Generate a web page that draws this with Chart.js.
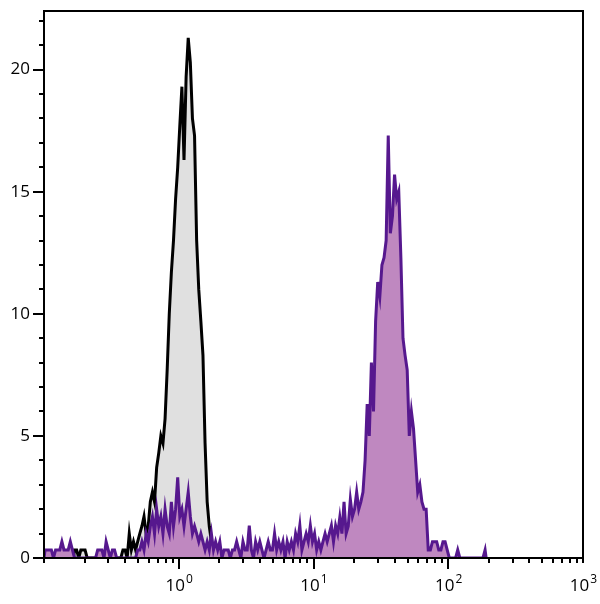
<!DOCTYPE html>
<html>
<head>
<meta charset="utf-8">
<script src="https://cdn.jsdelivr.net/npm/chart.js@4.4.0/dist/chart.umd.min.js"></script>
<style>
  html, body { margin: 0; padding: 0; background: #fff; }
</style>
</head>
<body>
<canvas id="histChart" width="600" height="604"></canvas>
<script>
// histogram channels: 64 per decade, first channel at 10^-1
const binsPerDecade = 64;
const firstDecade = -1;

const xTickValues = [1, 10, 100, 1000];
const xTickExponents = ["0", "1", "2", "3"];

// unstained control (black outline, grey fill), counts from channel 14
const controlStart = 14;
const controlCounts = [
  0.33, 0.33, 0, 0.33, 0.33, 0.33,
  0, 0, 0, 0, 0, 0, 0, 0, 0, 0, 0, 0, 0, 0, 0, 0, 0,
  0.33, 0.33, 0, 1.0, 0.33, 0.67, 0.33, 0.67, 1.0, 1.3, 1.7, 1.0, 1.3, 2.3, 2.7, 2.3, 3.7, 4.3, 5.0, 4.7, 5.7,
  7.7, 10.0, 11.7, 13.0, 14.7, 16.0, 17.7, 19.3, 16.3, 19.7, 21.3, 20.3, 18.0, 17.3, 13.0, 11.0, 9.7, 8.3,
  4.7, 2.3, 1.3, 0.67, 0.33
];

// stained sample (purple), counts from channel 0
const stainedStart = 0;
const stainedCounts = [
  0.33, 0.33, 0.33, 0.33, 0, 0.33, 0.33, 0.33, 0.67, 0.33, 0.33, 0.33, 0.67, 0.33,
  0, 0, 0, 0, 0, 0, 0, 0, 0, 0, 0,
  0.33, 0.33, 0.33, 0, 0.67, 0.33, 0, 0.33, 0.33, 0,
  0, 0, 0, 0, 0, 0, 0, 0, 0,
  0.33, 0.33, 0.67, 0.33, 1.0, 0.67, 1.3, 1.7, 1.0,
  2.0, 1.3, 1.7, 1.0, 2.0, 1.3, 1.0, 2.3, 1.3, 2.0, 3.3, 1.7, 2.0, 1.3, 2.0, 2.7, 1.7, 1.0, 1.3, 1.0,
  0.67, 1.0, 0.67, 0.33, 0.67, 0.33, 1.0, 0.33, 0.67, 0.33, 0.67,
  0, 0.33, 0.33, 0.33, 0, 0.33, 0.33, 0.67, 0.33, 0, 0.67, 0.33, 0.33, 1.33, 0.33,
  0, 0.67, 0.33, 0.67, 0.33, 0, 0.33, 0.67, 0.33, 0.33, 1.0, 0.33, 0.67, 0.33, 0.67,
  0, 0.67, 0.33, 0.67, 0.33, 1.0, 0.67, 1.33, 0.33, 0.67, 1.0, 0.67, 1.33, 0.67, 1.0,
  0.33, 0.67, 0.33, 0.67, 1.0, 0.67, 1.0, 1.33, 0.67, 1.33, 1.0, 1.67, 1.0, 2.3, 1.0,
  1.3, 2.4, 1.7, 2.0, 2.7, 2.0, 2.3, 2.7, 4.0, 6.3, 5.0, 8.0, 6.0, 9.7, 11.3, 10.7,
  12.0, 12.3, 13.0, 17.3, 13.3, 14.0, 15.7, 14.7, 15.0, 12.3, 9.0, 8.3, 7.7, 5.0, 6.0, 5.3,
  4.0, 2.7, 3.0, 2.3, 2.0, 2.0, 0.33, 0.33, 0.67, 0.67, 0.67, 0.33, 0.33, 0.67, 0.67,
  0.33, 0, 0, 0, 0, 0.33,
  0, 0, 0, 0, 0, 0, 0, 0, 0, 0, 0, 0, 0.33
];

// channel counts -> points at channel centres, closed to zero at both ends
function channelPos(ch) {
  return Math.pow(10, firstDecade + ch / binsPerDecade);
}
function toPoints(start, counts) {
  const pts = [{ x: channelPos(start), y: 0 }];
  counts.forEach((c, i) => pts.push({ x: channelPos(start + i + 0.5), y: c }));
  pts.push({ x: channelPos(start + counts.length), y: 0 });
  return pts;
}

const fontFamily = "'Open Sans', 'DejaVu Sans', sans-serif";

// frame, tick marks (major longer than minor) and the 10^n labels
const axisFrame = {
  id: 'axisFrame',
  afterDraw(chart) {
    const { ctx, chartArea: a } = chart;
    const x = chart.scales.x, y = chart.scales.y;
    ctx.save();
    ctx.strokeStyle = '#000';
    ctx.lineWidth = 2;
    ctx.strokeRect(a.left, a.top, a.right - a.left, a.bottom - a.top);
    ctx.beginPath();
    for (let v = 0; v <= y.max; v += 1) {
      const py = Math.round(y.getPixelForValue(v));
      const len = v % 5 === 0 ? 11 : 5;
      ctx.moveTo(a.left, py);
      ctx.lineTo(a.left - len, py);
    }
    for (let d = firstDecade; d < 3; d++) {
      for (let k = 1; k <= 9; k++) {
        const px = Math.round(x.getPixelForValue(k * Math.pow(10, d)));
        const len = k === 1 && d >= 0 ? 11 : 5;
        ctx.moveTo(px, a.bottom);
        ctx.lineTo(px, a.bottom + len);
      }
    }
    const pEnd = Math.round(x.getPixelForValue(1000));
    ctx.moveTo(pEnd, a.bottom);
    ctx.lineTo(pEnd, a.bottom + 5);
    ctx.stroke();

    ctx.fillStyle = '#000';
    ctx.textBaseline = 'alphabetic';
    ctx.textAlign = 'left';
    xTickValues.forEach((v, i) => {
      const px = x.getPixelForValue(v);
      ctx.font = '17px ' + fontFamily;
      const wBase = ctx.measureText('10').width;
      ctx.font = '12px ' + fontFamily;
      const wExp = ctx.measureText(xTickExponents[i]).width;
      const left = px - (wBase + wExp) / 2;
      ctx.font = '17px ' + fontFamily;
      ctx.fillText('10', left, a.bottom + 33);
      ctx.font = '12px ' + fontFamily;
      ctx.fillText(xTickExponents[i], left + wBase + 1, a.bottom + 25);
    });
    ctx.restore();
  }
};

new Chart("histChart", {
  type: "line",
  data: {
    datasets: [
      {
        label: "stained",
        data: toPoints(stainedStart, stainedCounts),
        borderColor: "#56188e",
        backgroundColor: "#bf88c0",
        borderWidth: 3,
        fill: "origin",
        pointRadius: 0,
        order: 0
      },
      {
        label: "control",
        data: toPoints(controlStart, controlCounts),
        borderColor: "#000000",
        backgroundColor: "#e0e0e0",
        borderWidth: 3,
        fill: "origin",
        pointRadius: 0,
        order: 1
      }
    ]
  },
  options: {
    responsive: false,
    animation: false,
    layout: { padding: { top: 11, right: 17, left: 0, bottom: 0 } },
    plugins: {
      legend: { display: false },
      tooltip: { enabled: false }
    },
    scales: {
      x: {
        type: "logarithmic",
        min: 0.1,
        max: 1000,
        grid: { display: false, drawTicks: false },
        border: { display: false },
        afterFit(scale) { scale.height = 46; },
        ticks: { display: false }
      },
      y: {
        min: 0,
        max: 22.4,
        grid: { display: false, drawTicks: false },
        border: { display: false },
        afterFit(scale) {
          scale.width = 44;
          scale.paddingTop = 0;
          scale.paddingBottom = 0;
        },
        ticks: {
          stepSize: 5,
          includeBounds: false,
          padding: 14,
          color: "#000",
          font: { family: fontFamily, size: 17 }
        }
      }
    }
  },
  plugins: [axisFrame]
});
</script>
</body>
</html>
